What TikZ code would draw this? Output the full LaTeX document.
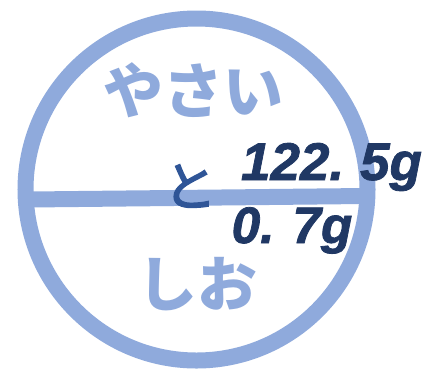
\documentclass[tikz,border=0pt]{standalone}
\usepackage{fontspec}
\newfontfamily\jpfont{Noto Sans CJK JP}
\newfontface\tofont[FakeBold=2.5]{Noto Sans CJK JP}
\newfontface\numface[FakeBold=1.5]{Liberation Sans Bold Italic}
\definecolor{ringblue}{HTML}{8FAADC}
\definecolor{midblue}{HTML}{2F5597}
\definecolor{navy}{HTML}{203864}
\begin{document}
\begin{tikzpicture}[x=0.75pt,y=-0.75pt,
  kana/.style={font=\jpfont\bfseries\fontsize{45pt}{50pt}\selectfont, text=ringblue, inner sep=0pt},
  num/.style={text=navy, inner sep=0pt, anchor=base}]
\useasboundingbox (0,0) rectangle (441,372);
% ring and bar
\node[draw=ringblue, line width=12pt, circle, minimum size=256.5pt, inner sep=0pt] (ring) at (196.5,189.5) {};
\coordinate (barL) at (30,199.5);
\coordinate (barR) at (364,196);
\draw[ringblue, line width=12pt] (barL) -- (barR);
% labels
\node[kana] (yasai) at (193.5,90) {やさい};
\node[kana] (shio) at (197.5,284) {しお};
% middle
\node[font=\tofont\fontsize{40pt}{44pt}\selectfont, text=midblue, inner sep=0pt] (to) at (190,186) {と};
% numbers
\node[num, font=\numface\fontsize{39.75pt}{44pt}\selectfont] (veg) at (331.5,180) {122.\hspace{0.3em}5g};
\node[num, font=\numface\fontsize{38.5pt}{42pt}\selectfont] (salt) at (292,243) {0.\hspace{0.35em}7g};
\end{tikzpicture}
\end{document}
